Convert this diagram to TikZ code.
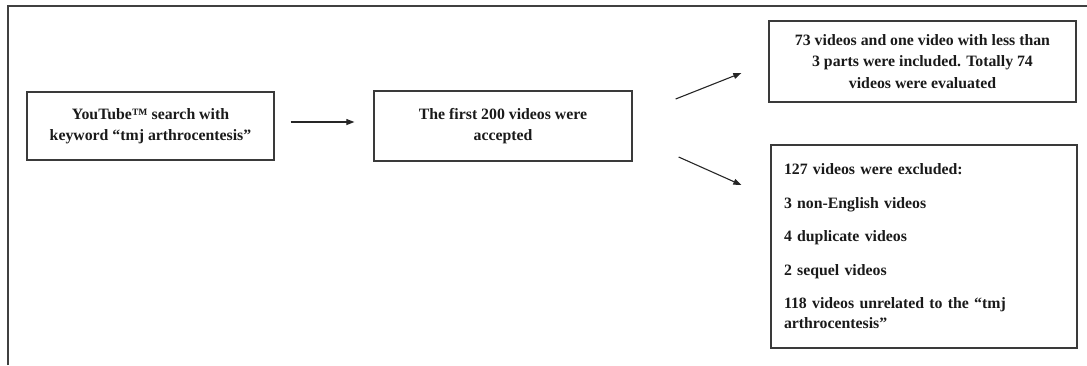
\documentclass[tikz,border=0pt]{standalone}
\usepackage{fontspec}
\setmainfont{Liberation Serif}
\usetikzlibrary{arrows.meta}
\definecolor{linec}{HTML}{3A3A3A}
\definecolor{textc}{HTML}{1A1A1A}
\begin{document}
\begin{tikzpicture}[x=1pt,y=-1pt,
  box/.style={draw=linec, line width=1.3pt, rectangle, inner sep=0pt, align=center,
    font=\bfseries\fontsize{15.8}{21.5}\selectfont, text=textc},
  conn/.style={draw=black!85, line width=1.1pt, -{Triangle[length=8pt,width=6pt]}}]
\useasboundingbox (0,0) rectangle (1087,365);
\draw[line width=1.8pt, draw=black!75] (8,365) -- (8,6) -- (1087,6);
\node[box, minimum width=247pt, minimum height=68pt] (b1) at (150.5,126)
  {YouTube™ search with\\keyword “tmj arthrocentesis”};
\node[box, minimum width=258pt, minimum height=70pt] (b2) at (503,126)
  {The first 200 videos were\\accepted};
\node[box, minimum width=307pt, minimum height=81pt] (b3) at (922.5,61.5)
  {73 videos and one video with less than\\3 parts were included. Totally 74\\videos were evaluated};
\node[box, minimum width=306pt, minimum height=203pt, align=left, text width=280pt,
  font=\bfseries\fontsize{15.8}{20}\selectfont] (b4) at (924,246.5)
  {127 videos were excluded:\\[13.5pt]
   3 non-English videos\\[13.5pt]
   4 duplicate videos\\[13.5pt]
   2 sequel videos\\[13.5pt]
   118 videos unrelated to the “tmj\\arthrocentesis”};
\coordinate (a1s) at ([xshift=16pt,yshift=4pt]b1.east);
\coordinate (a1e) at ([xshift=-19pt,yshift=4pt]b2.west);
\coordinate (a2s) at ([xshift=43pt,yshift=27pt]b2.east);
\coordinate (a2e) at ([xshift=-27pt,yshift=-11.5pt]b3.west);
\coordinate (a3s) at ([xshift=46pt,yshift=-31pt]b2.east);
\coordinate (a3e) at ([xshift=-29pt,yshift=61.5pt]b4.west);
\draw[conn] (a1s) -- (a1e);
\draw[conn] (a2s) -- (a2e);
\draw[conn] (a3s) -- (a3e);
\end{tikzpicture}
\end{document}
